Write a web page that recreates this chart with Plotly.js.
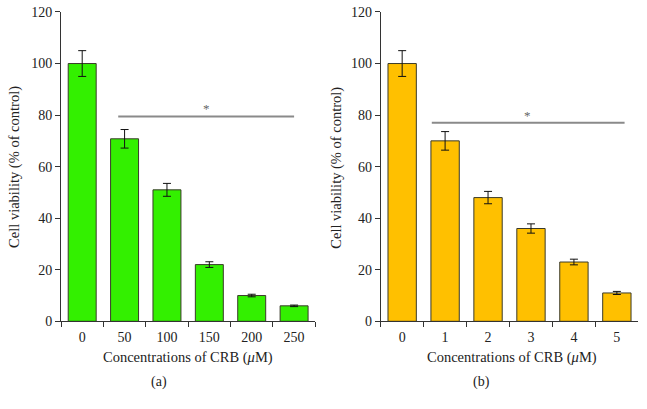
<!DOCTYPE html>
<html>
<head>
<meta charset="utf-8">
<script src="https://cdn.plot.ly/plotly-3.0.1.min.js"></script>
<style>html,body{margin:0;padding:0;background:#fff;}#chart{width:647px;height:409px;}</style>
</head>
<body>
<div id="chart"></div>
<script>
// Panel (a)
const catsA = ["0", "50", "100", "150", "200", "250"];
const valsA = [100, 70.8, 51, 22, 10, 6];
const errA = [5, 3.6, 2.5, 1.1, 0.5, 0.3];
// Panel (b)
const catsB = ["0", "1", "2", "3", "4", "5"];
const valsB = [100, 70, 48, 36, 23, 11];
const errB = [5, 3.6, 2.4, 1.8, 1.1, 0.6];
// significance bars
const sigA = {x0: 0.85, x1: 5.0, y: 79.5, sx: 2.94, sy: 82.5};
const sigB = {x0: 0.69, x1: 5.18, y: 77, sx: 2.93, sy: 79.8};

const fontFam = "Liberation Serif";
const txt = "#222";

function barTrace(cats, vals, errs, color, xa, ya) {
  return {
    type: "bar", x: cats, y: vals, xaxis: xa, yaxis: ya,
    marker: {color: color, line: {color: "#3a3a2a", width: 1}},
    error_y: {type: "data", array: errs, visible: true, color: "#111", thickness: 1, width: 4},
    hoverinfo: "none"
  };
}

const data = [
  barTrace(catsA, valsA, errA, "#33f000", "x", "y"),
  barTrace(catsB, valsB, errB, "#ffc000", "x2", "y2")
];

function xax(domain, anchor) {
  return {
    domain: domain, anchor: anchor, type: "category",
    showline: true, linecolor: "#333", linewidth: 1,
    ticks: "outside", ticklen: 5, tickcolor: "#333", tickson: "boundaries",
    ticklabelstandoff: 3,
    showgrid: false, zeroline: false,
    tickfont: {family: fontFam, size: 14, color: txt}
  };
}
function yax(domain, anchor) {
  return {
    domain: domain, anchor: anchor, range: [0, 120], tickvals: [0, 20, 40, 60, 80, 100, 120],
    showline: true, linecolor: "#333", linewidth: 1,
    ticks: "outside", ticklen: 5, tickcolor: "#333",
    showgrid: false, zeroline: false,
    tickfont: {family: fontFam, size: 14, color: txt}
  };
}

function ann(x, y, text, size, angle) {
  return {xref: "paper", yref: "paper", x: x, y: y, xanchor: "center", yanchor: "middle",
    text: text, textangle: angle || 0, showarrow: false, font: {family: fontFam, size: size, color: txt}};
}

const yDom = [0.2144, 0.9707];
const layout = {
  width: 647, height: 409,
  margin: {l: 0, r: 0, t: 0, b: 0},
  paper_bgcolor: "#fff", plot_bgcolor: "#fff",
  showlegend: false, bargap: 0.34,
  font: {family: fontFam, color: txt},
  xaxis: xax([0.0943, 0.4873], "y"),
  yaxis: yax(yDom, "x"),
  xaxis2: xax([0.5884, 0.9866], "y2"),
  yaxis2: yax(yDom, "x2"),
  shapes: [
    {type: "line", xref: "x", yref: "y", x0: sigA.x0, x1: sigA.x1, y0: sigA.y, y1: sigA.y, line: {color: "#8a8a8a", width: 2}},
    {type: "line", xref: "x2", yref: "y2", x0: sigB.x0, x1: sigB.x1, y0: sigB.y, y1: sigB.y, line: {color: "#8a8a8a", width: 2}}
  ],
  annotations: [
    {xref: "x", yref: "y", x: sigA.sx, y: sigA.sy, xanchor: "center", yanchor: "middle", text: "*", showarrow: false, font: {family: fontFam, size: 13, color: "#666"}},
    {xref: "x2", yref: "y2", x: sigB.sx, y: sigB.sy, xanchor: "center", yanchor: "middle", text: "*", showarrow: false, font: {family: fontFam, size: 13, color: "#666"}},
    ann(0.2908, 0.127, "Concentrations of CRB (<i>μ</i>M)", 14.5),
    ann(0.7908, 0.127, "Concentrations of CRB (<i>μ</i>M)", 14.5),
    ann(0.0232, 0.592, "Cell viability (% of control)", 14.5, -90),
    ann(0.5209, 0.590, "Cell viability (% of control)", 14.5, -90),
    ann(0.2462, 0.066, "(a)", 14),
    ann(0.7445, 0.066, "(b)", 14)
  ]
};

Plotly.newPlot("chart", data, layout, {displayModeBar: false, staticPlot: true});
</script>
</body>
</html>
